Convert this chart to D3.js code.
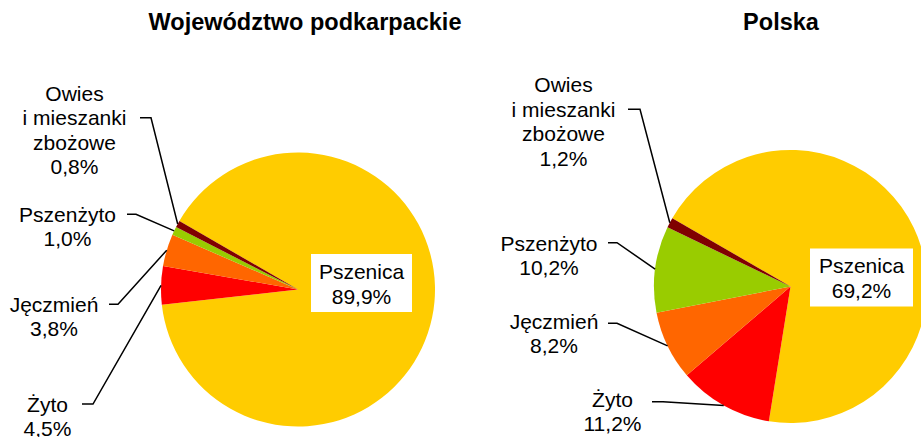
<!DOCTYPE html>
<html>
<head>
<meta charset="utf-8">
<script src="https://cdn.jsdelivr.net/npm/d3@7"></script>
<style>
  html, body { margin: 0; padding: 0; background: #fff; }
  svg { display: block; }
  text { font-family: "Liberation Sans", Arial, sans-serif; fill: #000; }
</style>
</head>
<body>
<svg id="chart" width="921" height="437"></svg>
<script>
// ---- data ----
const categories = ["Pszenica", "Żyto", "Jęczmień", "Pszenżyto", "Owies\ni mieszanki\nzbożowe"];
const titles = ["Województwo podkarpackie", "Polska"];
const valuesPodkarpackie = [89.9, 4.5, 3.8, 1.0, 0.8];
const valuesPolska = [69.2, 11.2, 8.2, 10.2, 1.2];
const colors = ["#FFCC00", "#FF0000", "#FF6600", "#99CC00", "#800000"];

// ---- layout (positions only) ----
const pies = [
  { values: valuesPodkarpackie, cx: 298, cy: 289.5, r: 137, titleX: 305,
    box: { cx: 361.5, cy: 283, w: 101, h: 58 },
    labels: [
      null,
      { tx: 47.5, ty: 412,   ly: 404,   lx0: 82,  lx1: 93 },
      { tx: 54,   ty: 311.7, ly: 304.3, lx0: 109, lx1: 118 },
      { tx: 67.5, ty: 221.7, ly: 214.3, lx0: 127, lx1: 136 },
      { tx: 74.5, ty: 100.7, ly: 117.7, lx0: 140, lx1: 151 }
    ] },
  { values: valuesPolska, cx: 790.5, cy: 286.5, r: 136.5, titleX: 781,
    box: { cx: 861.5, cy: 277.5, w: 103, h: 58 },
    labels: [
      null,
      { tx: 612.5, ty: 406.7, ly: 401.7, lx0: 652, lx1: 663 },
      { tx: 554,   ty: 329,   ly: 323.3, lx0: 608, lx1: 617 },
      { tx: 549,   ty: 250.7, ly: 242.7, lx0: 608, lx1: 617 },
      { tx: 563.5, ty: 92.3,  ly: 109.3, lx0: 628, lx1: 640 }
    ] }
];

const fmt = v => d3.format(".1f")(v).replace(".", ",") + "%";
const svg = d3.select("#chart");
const startAngle = -60 * Math.PI / 180;
const lineH = 24.4;

pies.forEach((p, pi) => {
  const data = categories.map((c, i) => ({ name: c, value: p.values[i], color: colors[i], idx: i }));
  const pie = d3.pie().value(d => d.value).sort(null)
    .startAngle(startAngle).endAngle(startAngle + 2 * Math.PI);
  const arcs = pie(data);
  const arc = d3.arc().innerRadius(0).outerRadius(p.r);
  const edge = d3.arc().innerRadius(p.r).outerRadius(p.r);

  svg.append("text")
    .attr("x", p.titleX).attr("y", 30)
    .attr("text-anchor", "middle")
    .style("font-weight", "bold").style("font-size", "23.5px")
    .text(titles[pi]);

  const g = svg.append("g").attr("transform", `translate(${p.cx},${p.cy})`);
  g.selectAll("path.slice").data(arcs).join("path")
    .attr("class", "slice")
    .attr("d", arc)
    .attr("fill", d => d.data.color);

  // leader lines + outside labels
  arcs.forEach((a, i) => {
    const L = p.labels[i];
    if (!L) return;
    const mid = (a.startAngle + a.endAngle) / 2;
    const ex = p.cx + p.r * Math.sin(mid);
    const ey = p.cy - p.r * Math.cos(mid);
    svg.append("polyline")
      .attr("points", `${L.lx0},${L.ly} ${L.lx1},${L.ly} ${ex},${ey}`)
      .attr("fill", "none").attr("stroke", "#000").attr("stroke-width", 1.5);
    const lines = a.data.name.split("\n").concat([fmt(a.data.value)]);
    const t = svg.append("text")
      .attr("text-anchor", "middle").style("font-size", "21px");
    lines.forEach((ln, k) => {
      t.append("tspan").attr("x", L.tx).attr("y", L.ty + k * lineH).text(ln);
    });
  });

  // inside label for Pszenica
  const b = p.box;
  svg.append("rect")
    .attr("x", b.cx - b.w / 2).attr("y", b.cy - b.h / 2)
    .attr("width", b.w).attr("height", b.h).attr("fill", "#fff");
  const t0 = svg.append("text").attr("text-anchor", "middle").style("font-size", "21px");
  t0.append("tspan").attr("x", b.cx).attr("y", b.cy - 4.5).text(categories[0]);
  t0.append("tspan").attr("x", b.cx).attr("y", b.cy + 20.5).text(fmt(p.values[0]));
});
</script>
</body>
</html>
